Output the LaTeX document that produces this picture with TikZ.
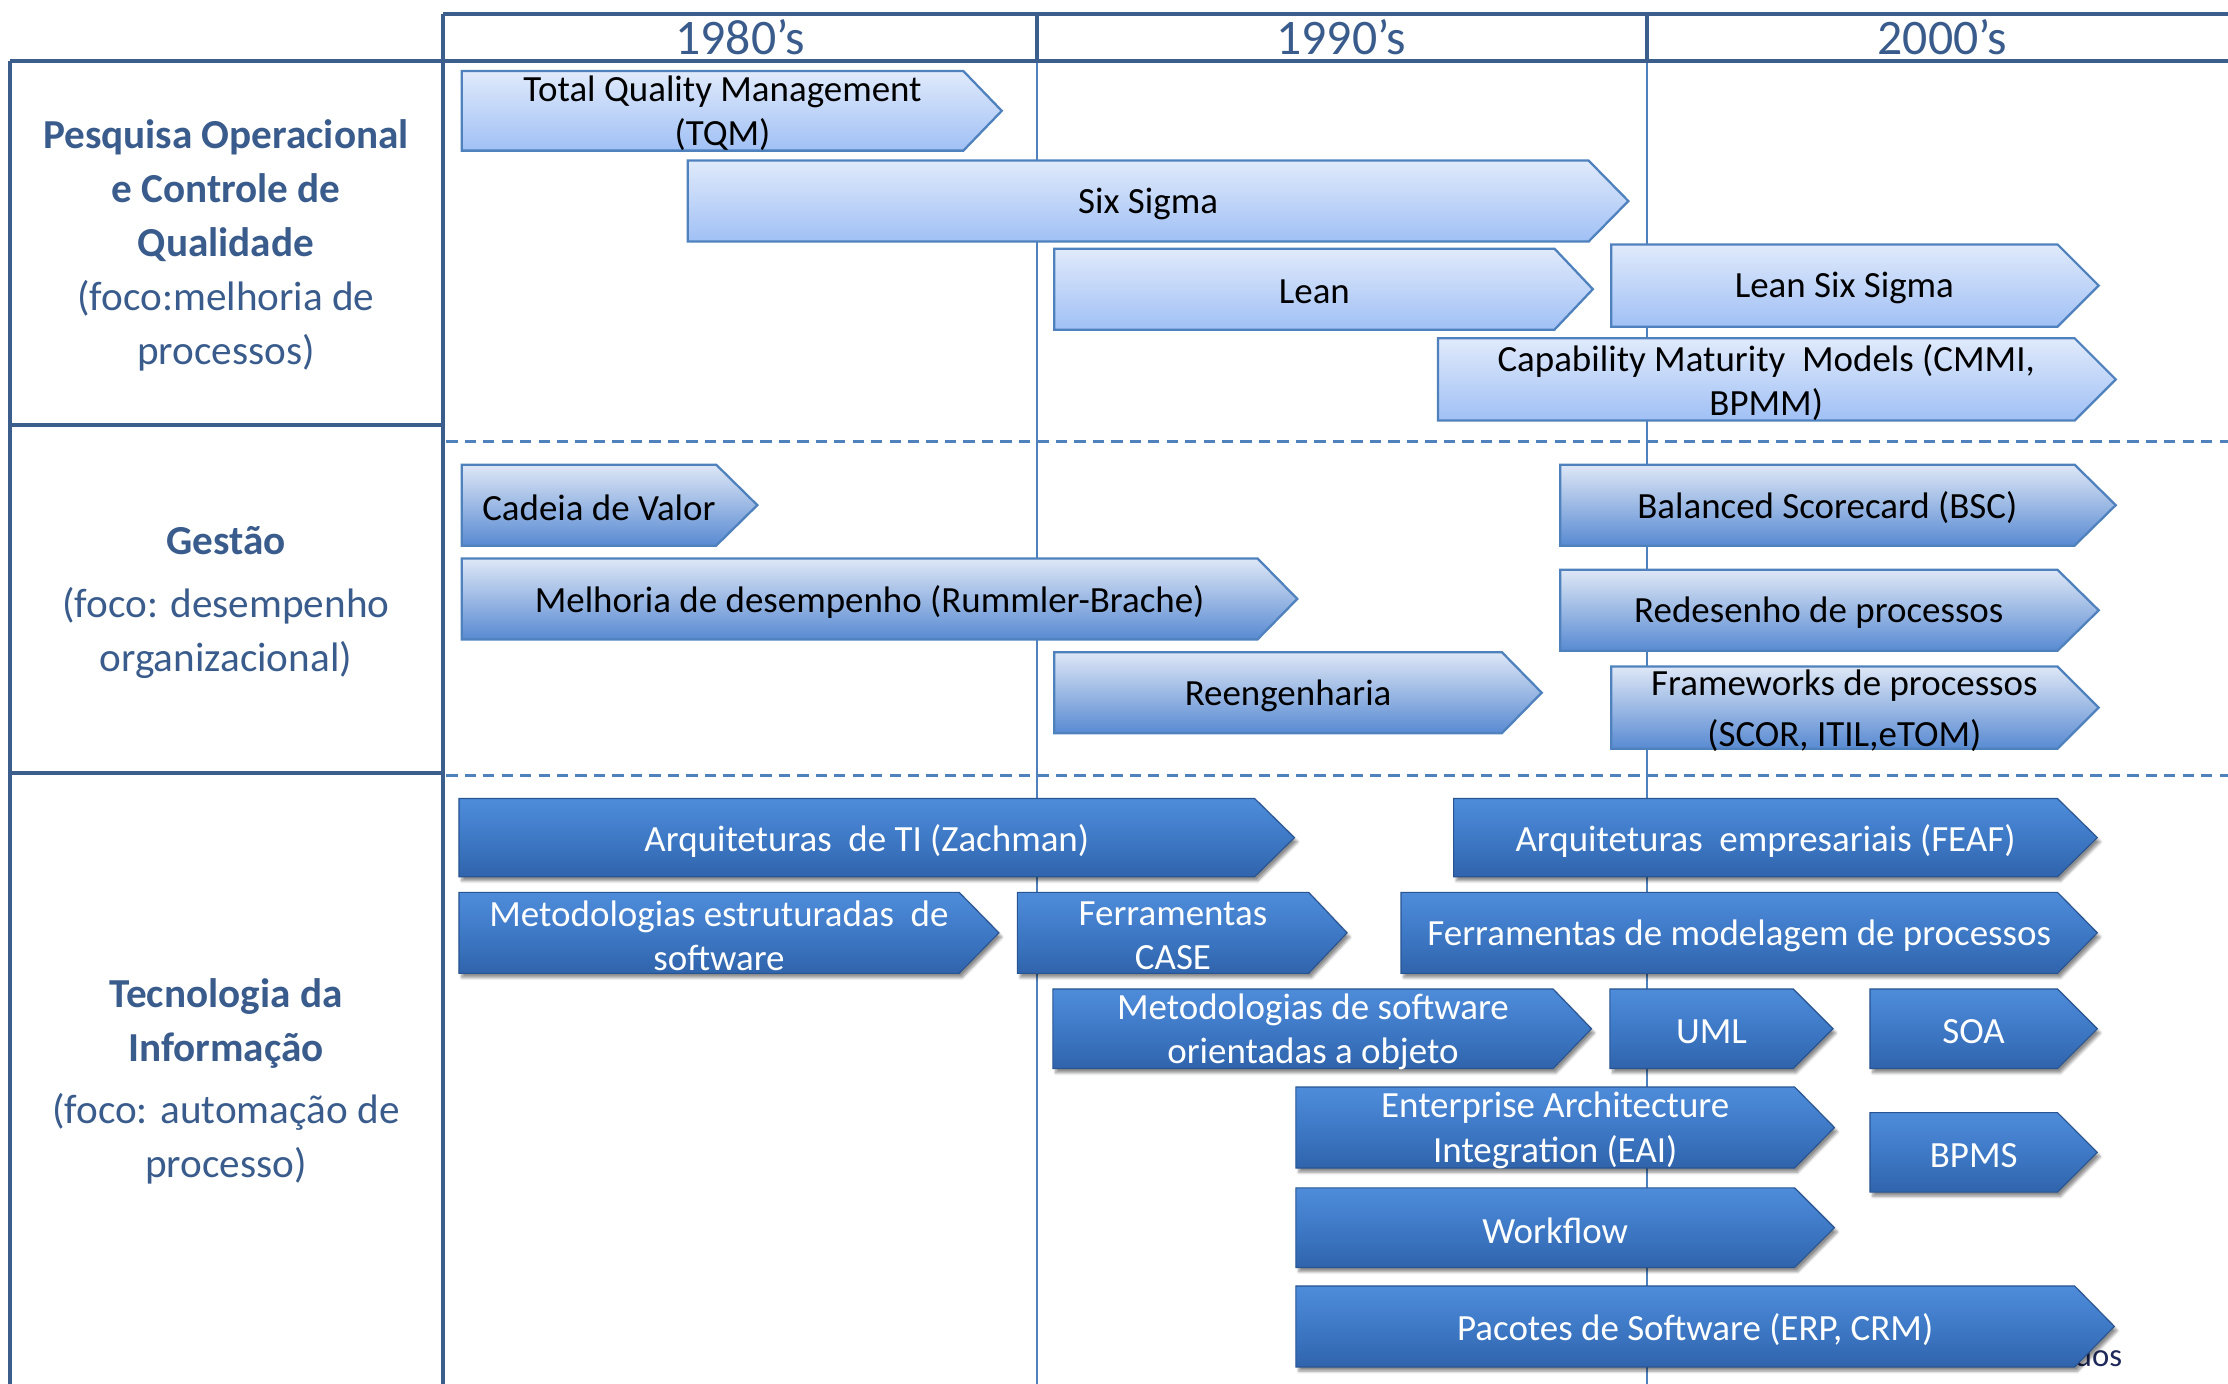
\documentclass[tikz,border=0pt]{standalone}
\usepackage{fontspec}
\setmainfont{Carlito}
\usetikzlibrary{shadows.blur}

\definecolor{framecol}{RGB}{59,94,140}
\definecolor{gridcol}{RGB}{79,129,189}
\definecolor{labelcol}{RGB}{58,92,140}
\definecolor{lightTop}{RGB}{224,234,251}
\definecolor{lightBot}{RGB}{160,192,245}
\definecolor{midTop}{RGB}{222,231,246}
\definecolor{midBot}{RGB}{88,138,210}
\definecolor{darkTop}{RGB}{78,140,218}
\definecolor{darkMid}{RGB}{62,121,198}
\definecolor{darkBot}{RGB}{48,100,172}
\definecolor{darkEdge}{RGB}{40,84,146}
\definecolor{notecol}{RGB}{30,40,90}

\newcommand\barfont{\fontsize{26}{31}\selectfont}
\newcommand\sidefont{\fontsize{29}{38}\selectfont}

\tikzset{
  frameline/.style={draw=framecol, line width=3pt},
  gridline/.style={draw=gridcol, line width=1.3pt},
  rowsep/.style={draw=gridcol, line width=2pt, dash pattern=on 8pt off 5pt},
  light/.style={top color=lightTop, bottom color=lightBot, draw=gridcol, line width=1.6pt},
  lighttext/.style={font=\barfont, text=black, align=center, inner sep=0pt},
  mid/.style={top color=midTop, bottom color=midBot, draw=gridcol, line width=1.6pt},
  midtext/.style={font=\barfont, text=black, align=center, inner sep=0pt},
  dark/.style={top color=darkTop, bottom color=darkBot, middle color=darkMid, draw=darkEdge, line width=0.8pt,
    blur shadow={shadow xshift=2pt, shadow yshift=-3pt, shadow blur steps=6, shadow opacity=45}},
  darktext/.style={font=\barfont, text=white, align=center, inner sep=0pt},
  decade/.style={font=\fontsize{35}{35}\selectfont, text=labelcol},
  sidelabel/.style={font=\sidefont, text=labelcol, align=center},
}

% #1 name, #2 style, #3 left x, #4 x where the point starts, #5 tip x,
% #6 top y, #7 bottom y, #8 text
\newcommand\tlbar[8]{%
  \path[#2] (#3,#6) -- (#4,#6) -- (#5,{(#6+#7)/2}) -- (#4,#7) -- (#3,#7) -- cycle;
  \node[#2text] (#1) at ({(#3+#4)/2+7},{(#6+#7)/2+2}) {#8};
}

\begin{document}
\begin{tikzpicture}[x=1pt,y=-1pt]
\useasboundingbox (0,0) rectangle (1568,974);

% thin decade separators and dashed row separators
\draw[gridline] (730,43) -- (730,974);
\draw[gridline] (1159,43) -- (1159,974);
\draw[rowsep] (314,311) -- (1568,311);
\draw[rowsep] (314,546) -- (1568,546);

% frame: header and left column
\draw[frameline] (312,10) -- (1568,10);
\draw[frameline] (7,43) -- (1568,43);
\draw[frameline] (312,10) -- (312,974);
\draw[frameline] (730,10) -- (730,43);
\draw[frameline] (1159,10) -- (1159,43);
\draw[frameline] (7,43) -- (7,974);
\draw[frameline] (7,299) -- (312,299);
\draw[frameline] (7,544) -- (312,544);

% decades
\node[decade] (d80) at (521,26) {1980’s};
\node[decade] (d90) at (944,26) {1990’s};
\node[decade] (d00) at (1367,26) {2000’s};

% row labels
\node[sidelabel] (rowq) at (159,173) {\textbf{Pesquisa Operacional}\\\textbf{e Controle de}\\\textbf{Qualidade}\\(foco:melhoria de\\processos)};
\node[sidelabel] (rowg) at (159,424) {\textbf{Gestão}\\[6pt](foco: desempenho\\organizacional)};
\node[sidelabel] (rowt) at (159,761) {\textbf{Tecnologia da}\\\textbf{Informação}\\[6pt](foco: automação de\\processo)};

% note partly covered by the last bar
\node[anchor=base east, font=\fontsize{23}{23}\selectfont, text=notecol] (note) at (1497,962) {© Todos os direitos reservados};

% quality bars
\tlbar{tqm}{light}{325}{678}{705}{50}{106}{Total Quality Management\\(TQM)}
\tlbar{six}{light}{484}{1118}{1146}{113}{170}{Six Sigma}
\tlbar{lean}{light}{742}{1094}{1121}{175}{232}{Lean}
\tlbar{lss}{light}{1134}{1448}{1477}{172}{230}{Lean Six Sigma}
\tlbar{cmm}{light}{1012}{1460}{1489}{238}{296}{Capability Maturity\ \ Models (CMMI,\\BPMM)}

% management bars
\tlbar{cadeia}{mid}{325}{504}{533}{327}{384}{Cadeia de Valor}
\tlbar{melhoria}{mid}{325}{885}{913}{393}{450}{Melhoria de desempenho (Rummler-Brache)}
\tlbar{reeng}{mid}{742}{1057}{1085}{459}{516}{Reengenharia}
\tlbar{bsc}{mid}{1098}{1460}{1489}{327}{384}{Balanced Scorecard (BSC)}
\tlbar{redes}{mid}{1098}{1448}{1477}{401}{458}{Redesenho de processos}
\tlbar{frame}{mid}{1134}{1448}{1477}{469}{527}{Frameworks de processos\\[5pt](SCOR, ITIL,eTOM)}

% IT bars
\tlbar{zach}{dark}{323}{883}{911}{562}{617}{Arquiteturas\ \ de TI (Zachman)}
\tlbar{feaf}{dark}{1023}{1448}{1476}{562}{617}{Arquiteturas\ \ empresariais (FEAF)}
\tlbar{mest}{dark}{323}{675}{703}{628}{685}{Metodologias estruturadas\ \ de\\software}
\tlbar{case}{dark}{716}{921}{948}{628}{685}{Ferramentas\\CASE}
\tlbar{fmod}{dark}{986}{1448}{1476}{628}{685}{Ferramentas de modelagem de processos}
\tlbar{moo}{dark}{741}{1093}{1120}{696}{752}{Metodologias de software\\orientadas a objeto}
\tlbar{uml}{dark}{1133}{1262}{1290}{696}{752}{UML}
\tlbar{soa}{dark}{1316}{1448}{1476}{696}{752}{SOA}
\tlbar{eai}{dark}{912}{1263}{1291}{765}{822}{Enterprise Architecture\\Integration (EAI)}
\tlbar{bpms}{dark}{1316}{1448}{1476}{783}{839}{BPMS}
\tlbar{wf}{dark}{912}{1263}{1291}{836}{892}{Workflow}
\tlbar{erp}{dark}{912}{1460}{1488}{905}{962}{Pacotes de Software (ERP, CRM)}
\end{tikzpicture}
\end{document}
